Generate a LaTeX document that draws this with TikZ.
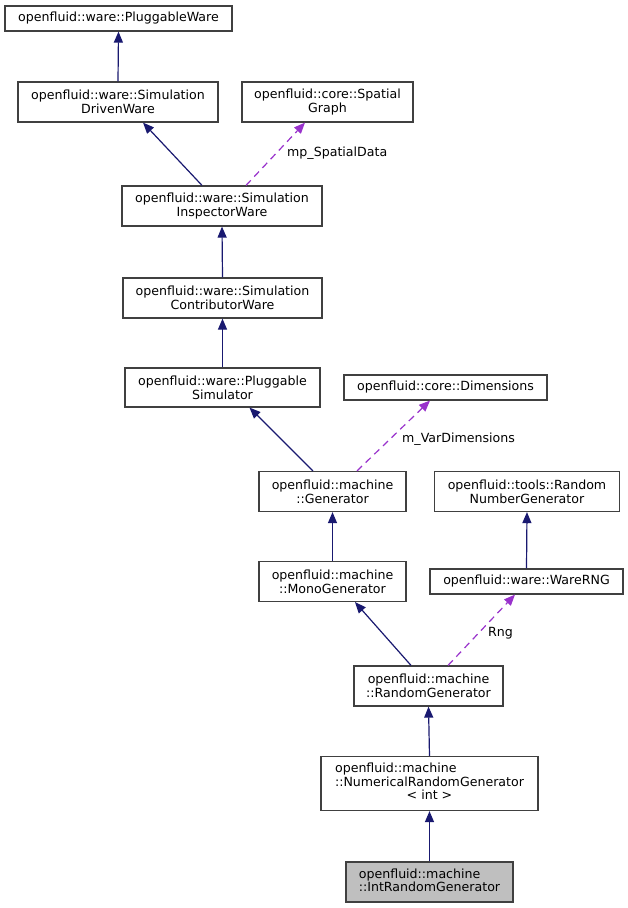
\documentclass[tikz,border=0pt]{standalone}
\usepackage{fontspec}
\setmainfont{DejaVu Sans}
\usetikzlibrary{arrows.meta}
\definecolor{boxgray}{RGB}{64,64,64}
\definecolor{inhblue}{RGB}{25,25,112}
\definecolor{usepurple}{RGB}{153,50,204}
\definecolor{hilite}{RGB}{191,191,191}
\begin{document}
\begin{tikzpicture}[x=1pt,y=-1pt,
  font=\fontsize{12.6}{14}\selectfont,
  cls/.style={draw=boxgray, line width=1.2pt, fill=white, inner sep=0pt, align=center},
  inh/.style={draw=inhblue, line width=1.2pt, -{Triangle[length=11pt,width=9pt]}, inhblue},
  use/.style={draw=usepurple, line width=1.2pt, dash pattern=on 7pt off 5pt, -{Triangle[length=11pt,width=9pt]}, usepurple},
  lbl/.style={anchor=west, inner sep=0pt}]
\useasboundingbox (0,0) rectangle (628,908);
\fill[white] (0,0) rectangle (628,908);

\node[cls, minimum width=227pt, minimum height=25pt] (pw) at (118.5,18.5) {openfluid::ware::PluggableWare};
\node[cls, minimum width=200pt, minimum height=40pt] (sdw) at (118,102) {openfluid::ware::Simulation\\DrivenWare};
\node[cls, minimum width=171pt, minimum height=40pt] (sg) at (327.5,102) {openfluid::core::Spatial\\Graph};
\node[cls, minimum width=200pt, minimum height=40pt] (siw) at (222,206) {openfluid::ware::Simulation\\InspectorWare};
\node[cls, minimum width=199pt, minimum height=40pt] (scw) at (222.5,298) {openfluid::ware::Simulation\\ContributorWare};
\node[cls, minimum width=195pt, minimum height=39pt] (ps) at (222.5,387.5) {openfluid::ware::Pluggable\\Simulator};
\node[cls, minimum width=203pt, minimum height=25pt] (dim) at (445.5,387.5) {openfluid::core::Dimensions};
\node[cls, minimum width=147pt, minimum height=40pt] (gen) at (332.5,491.5) {openfluid::machine\\::Generator};
\node[cls, minimum width=185pt, minimum height=40pt] (trng) at (527,491.5) {openfluid::tools::Random\\NumberGenerator};
\node[cls, minimum width=147pt, minimum height=40pt] (mono) at (332.5,581.5) {openfluid::machine\\::MonoGenerator};
\node[cls, minimum width=193pt, minimum height=25pt] (wrng) at (526.5,581.5) {openfluid::ware::WareRNG};
\node[cls, minimum width=149pt, minimum height=40pt] (rg) at (428.5,686) {openfluid::machine\\::RandomGenerator};
\node[cls, minimum width=217pt, minimum height=54pt] (nrg) at (429.5,783.5) {\renewcommand\arraystretch{0.93}\begin{tabular}{@{}l@{}}openfluid::machine\\::NumericalRandomGenerator\\\multicolumn{1}{@{}c@{}}{< int >}\end{tabular}};
\node[cls, fill=hilite, minimum width=167pt, minimum height=40pt] (irg) at (429.5,882) {\renewcommand\arraystretch{0.93}\begin{tabular}{@{}l@{}}openfluid::machine\\::IntRandomGenerator\end{tabular}};

% inheritance
\draw[inh] (sdw.north) -- (pw.south);
\draw[inh] ([xshift=-20pt]siw.north) -- ([xshift=25pt]sdw.south);
\draw[inh] (scw.north) -- (siw.south);
\draw[inh] (ps.north) -- (scw.south);
\draw[inh] ([xshift=-19.5pt]gen.north) -- ([xshift=27pt]ps.south);
\draw[inh] (mono.north) -- (gen.south);
\draw[inh] (wrng.north) -- (trng.south);
\draw[inh] ([xshift=-17.5pt]rg.north) -- ([xshift=22.5pt]mono.south);
\draw[inh] (nrg.north) -- (rg.south);
\draw[inh] (irg.north) -- (nrg.south);

% usage
\draw[use] ([xshift=24pt]siw.north) -- ([xshift=-22.5pt]sg.south);
\draw[use] ([xshift=24.5pt]gen.north) -- ([xshift=-15.5pt]dim.south);
\draw[use] ([xshift=19.5pt]rg.north) -- ([xshift=-11.5pt]wrng.south);

\node[lbl] (l1) at (287,153) {mp\_SpatialData};
\node[lbl] (l2) at (402,439) {m\_VarDimensions};
\node[lbl] (l3) at (488,633) {Rng};
\end{tikzpicture}
\end{document}
